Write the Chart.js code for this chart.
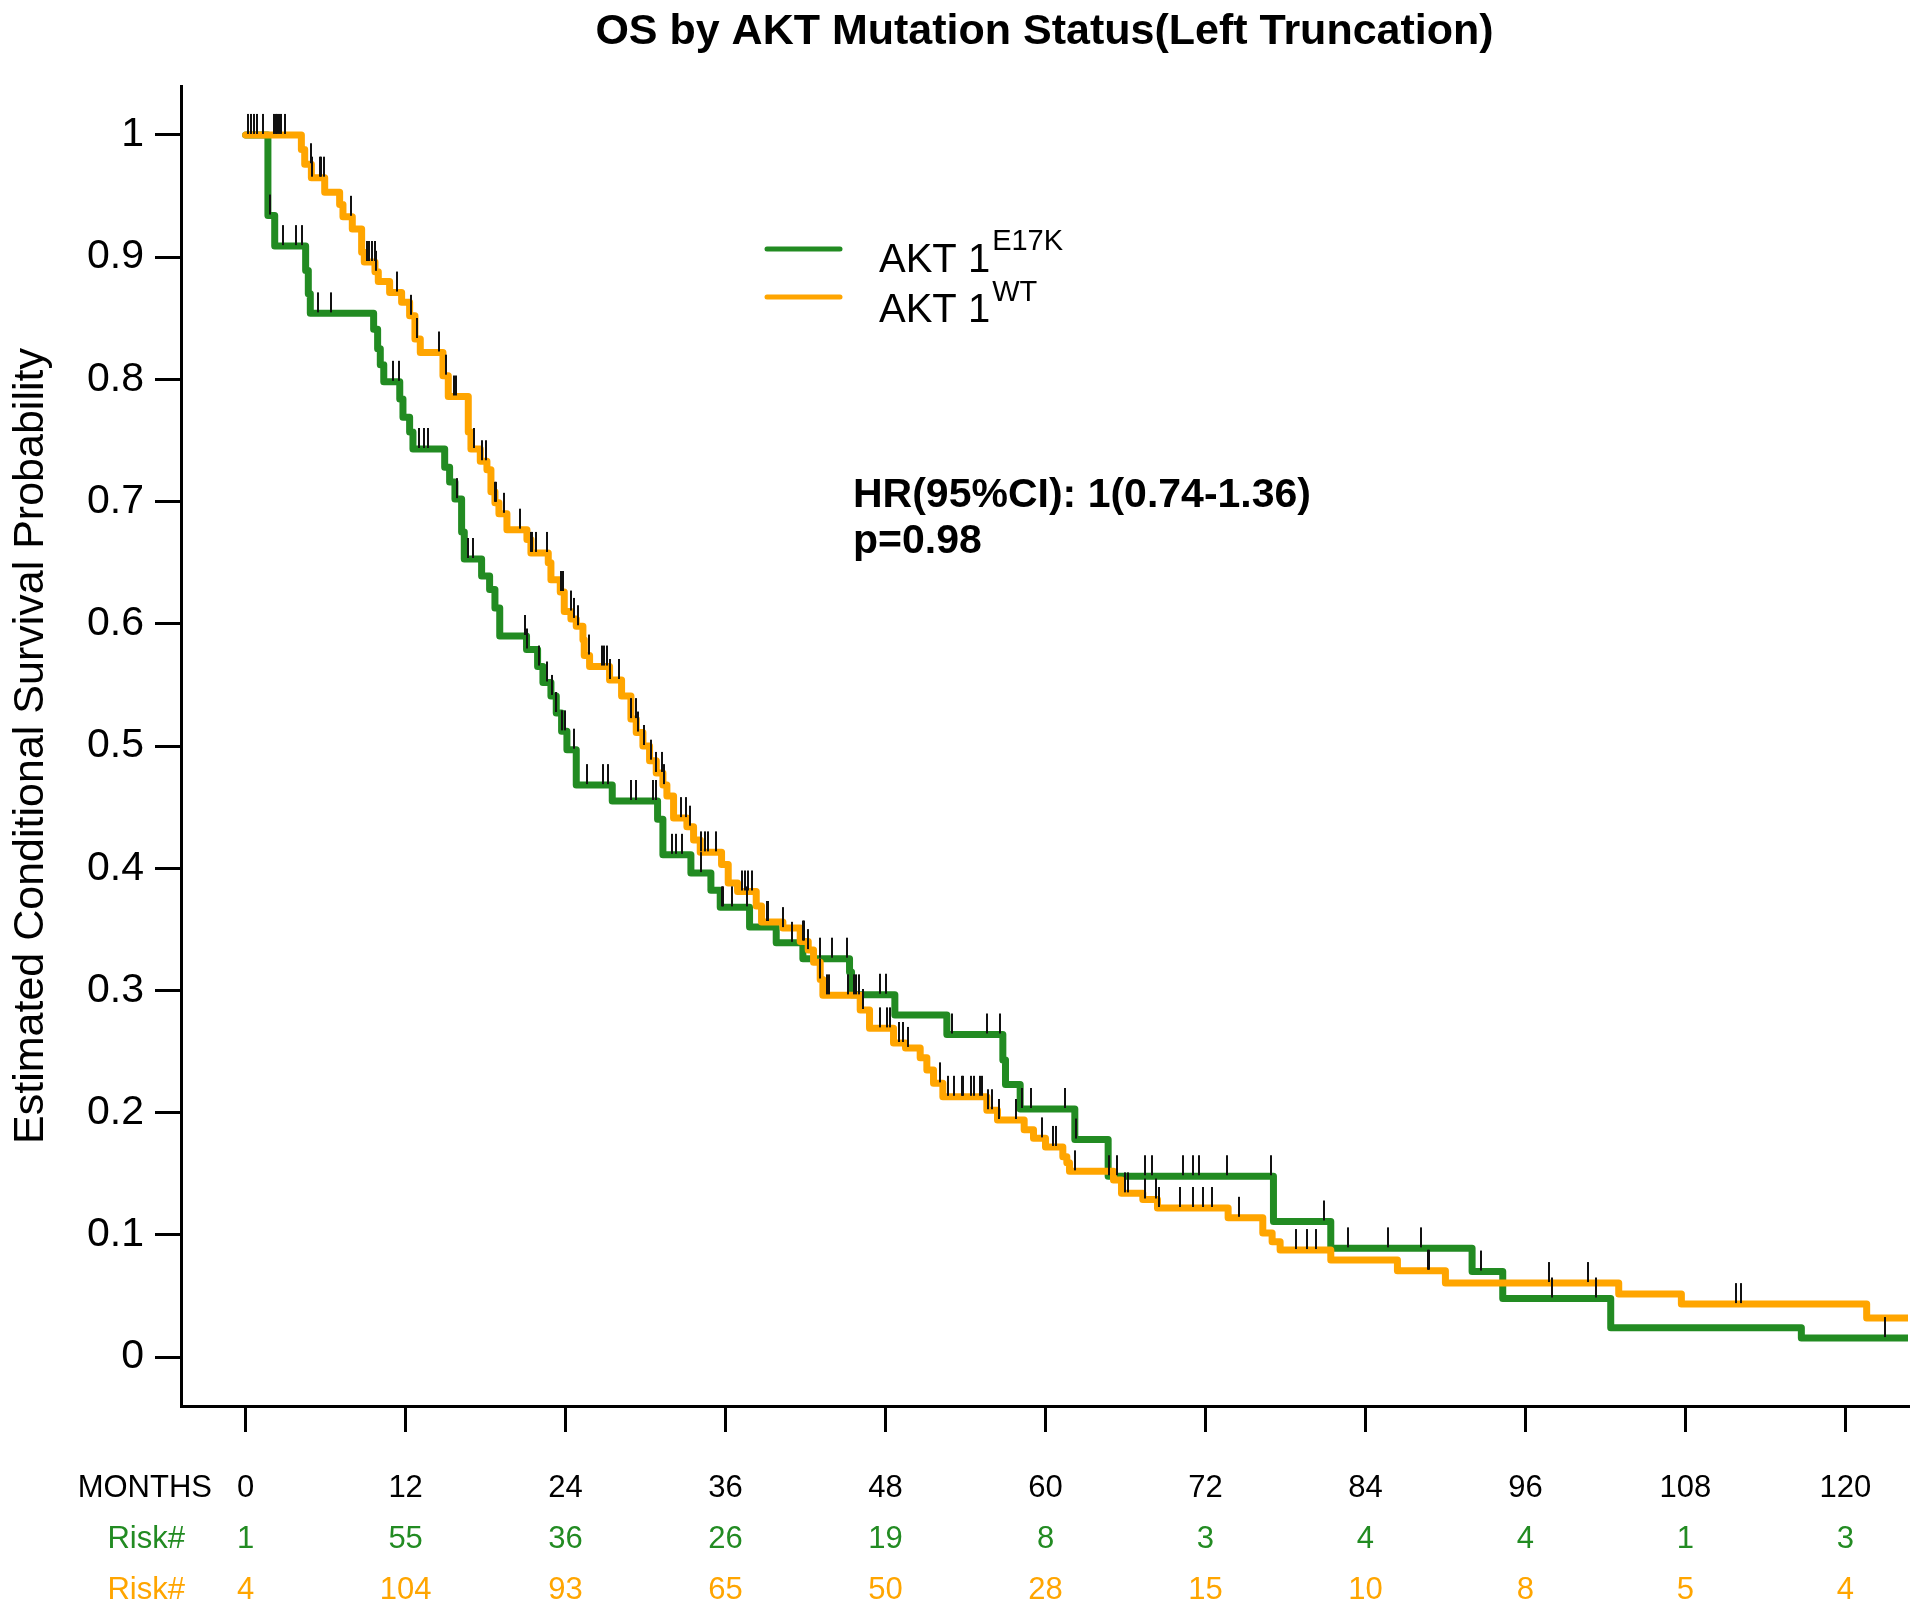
<!DOCTYPE html>
<html>
<head>
<meta charset="utf-8">
<script src="https://cdn.jsdelivr.net/npm/chart.js@4.4.1/dist/chart.umd.min.js"></script>
<style>
  html, body { margin: 0; padding: 0; background: #fff; }
  #wrap { width: 1920px; height: 1616px; position: relative; }
</style>
</head>
<body>
<div id="wrap"><canvas id="chart"></canvas></div>
<script>
// Kaplan-Meier steps, AKT1 E17K (green)
const mutTimes = [0, 1.67, 2.18, 4.5, 4.7, 4.85, 9.6, 9.9, 10.1, 10.36, 11.56, 11.8, 12.3, 12.55,
    14.93, 15.3, 15.7, 16.2, 16.4, 17.7, 18.3, 18.7, 19.06, 21.07, 21.9, 22.3, 22.9, 23.3, 23.7,
    24.1, 24.8, 27.5, 30.9, 31.3, 33.4, 34.9, 35.6, 37.8, 39.8, 41.8, 45.3, 45.45, 48.7, 52.6,
    56.8, 57.0, 58.1, 62.2, 64.7, 77.1, 81.4, 92.0, 94.3, 102.4, 116.7, 124.7];
const mutSurv = [1, 0.934, 0.909, 0.889, 0.870, 0.854, 0.841, 0.825, 0.812, 0.798, 0.784, 0.769, 0.757, 0.743,
    0.728, 0.716, 0.702, 0.675, 0.653, 0.639, 0.628, 0.613, 0.590, 0.579, 0.565, 0.552, 0.541, 0.527, 0.512,
    0.497, 0.468, 0.455, 0.440, 0.411, 0.396, 0.382, 0.368, 0.352, 0.339, 0.326, 0.315, 0.2965, 0.280, 0.264,
    0.243, 0.223, 0.203, 0.178, 0.148, 0.111, 0.089, 0.070, 0.048, 0.024, 0.0156, 0.0156];
const mutCensor = [1.85, 2.8, 3.8, 4.25, 5.43, 6.43, 11.05, 11.48, 13.0, 13.4, 13.7, 15.86, 16.7, 17.06,
    20.94, 21.14, 22.0, 22.57, 23.0, 23.3, 23.7, 23.94, 24.6, 25.57, 26.77, 27.2, 28.94, 29.3, 30.57, 30.77,
    31.95, 32.27, 32.7, 34.15, 35.7, 35.8, 36.5, 37.6, 40.95, 43.08, 43.95, 45.1, 47.6, 48.0, 53.0, 55.6,
    56.6, 58.2, 58.9, 61.5, 62.3, 64.8, 65.4, 67.5, 68.0, 70.3, 71.1, 71.5, 73.6, 76.9, 80.9, 82.7, 85.7,
    88.2, 92.7, 98.0, 101.3, 123.0];

// Kaplan-Meier steps, AKT1 WT (orange)
const wtTimes = [0, 4.18, 4.43, 4.93, 5.93, 7.05, 7.3, 8.0, 8.7, 8.9, 9.7, 9.95, 10.8, 11.7, 12.3, 12.7,
    13.1, 14.8, 15.2, 16.7, 16.9, 17.6, 18.1, 18.4, 18.7, 19.0, 19.6, 21.1, 21.4, 22.7, 22.9, 23.6, 23.9,
    24.4, 24.8, 25.3, 25.4, 25.8, 27.3, 28.2, 28.9, 29.3, 29.8, 30.3, 30.8, 31.3, 31.6, 32.1, 33.1, 33.6,
    34.1, 35.7, 36.2, 36.9, 38.3, 38.7, 40.3, 41.6, 42.2, 42.6, 43.1, 43.3, 46.1, 46.8, 48.6, 49.5, 50.6,
    51.1, 51.6, 52.3, 55.6, 56.4, 58.4, 59.1, 60.0, 61.3, 61.6, 61.8, 65.1, 65.7, 67.3, 68.4, 73.7, 76.3,
    77.0, 77.6, 81.4, 86.4, 90.0, 103.0, 107.7, 121.6, 124.7];
const wtSurv = [1, 0.988, 0.976, 0.965, 0.953, 0.943, 0.933, 0.923, 0.904, 0.896, 0.888, 0.880, 0.871, 0.863,
    0.852, 0.833, 0.822, 0.803, 0.786, 0.757, 0.743, 0.733, 0.726, 0.708, 0.699, 0.690, 0.677, 0.669, 0.658,
    0.650, 0.636, 0.626, 0.610, 0.604, 0.598, 0.587, 0.574, 0.565, 0.554, 0.541, 0.522, 0.511, 0.500, 0.488,
    0.478, 0.468, 0.459, 0.441, 0.434, 0.423, 0.413, 0.403, 0.388, 0.381, 0.369, 0.356, 0.351, 0.340, 0.333,
    0.323, 0.309, 0.296, 0.284, 0.269, 0.257, 0.253, 0.245, 0.235, 0.224, 0.213, 0.202, 0.194, 0.186, 0.179,
    0.172, 0.164, 0.159, 0.152, 0.145, 0.134, 0.129, 0.122, 0.114, 0.1015, 0.0944, 0.0876, 0.0794, 0.0707,
    0.0606, 0.0516, 0.0434, 0.032, 0.032];
const wtCensor = [0.17, 0.38, 0.6, 0.88, 1.3, 2.13, 2.25, 2.38, 2.5, 2.68, 2.93, 4.88, 5.0, 5.55, 5.68, 5.85,
    7.93, 9.1, 9.26, 9.48, 9.68, 9.8, 11.38, 12.43, 12.86, 14.5, 15.06, 15.6, 15.76, 17.1, 17.7, 18.06, 18.7,
    18.76, 19.4, 20.56, 21.4, 21.5, 21.8, 22.57, 23.64, 23.8, 24.37, 24.64, 24.94, 25.77, 26.7, 26.9, 27.07,
    27.3, 28.0, 28.94, 29.27, 29.44, 29.9, 30.37, 30.8, 31.2, 31.37, 32.65, 33.0, 33.3, 34.15, 34.45, 34.7,
    35.3, 37.25, 37.45, 37.7, 37.95, 39.1, 39.2, 40.3, 41.8, 41.9, 42.2, 43.1, 43.6, 43.75, 45.2, 45.6, 45.8,
    46.0, 46.3, 47.6, 48.1, 48.3, 49.0, 49.3, 49.7, 52.1, 52.7, 53.1, 53.7, 53.8, 54.4, 54.6, 55.1, 55.2,
    55.7, 56.0, 56.5, 57.8, 59.7, 60.6, 60.8, 62.2, 66.0, 66.2, 67.5, 68.3, 68.5, 70.1, 71.1, 71.8, 72.5,
    74.5, 78.8, 79.6, 80.3, 88.7, 88.8, 97.8, 100.7, 111.8, 112.2];

// axis ticks and number-at-risk table
const monthTicks = [0, 12, 24, 36, 48, 60, 72, 84, 96, 108, 120];
const yTicks = [0, 0.1, 0.2, 0.3, 0.4, 0.5, 0.6, 0.7, 0.8, 0.9, 1];
const yTickLabels = ["0", "0.1", "0.2", "0.3", "0.4", "0.5", "0.6", "0.7", "0.8", "0.9", "1"];
const mutRisk = [1, 55, 36, 26, 19, 8, 3, 4, 4, 1, 3];
const wtRisk = [4, 104, 93, 65, 50, 28, 15, 10, 8, 5, 4];

const GREEN = "#228B22";
const ORANGE = "#FFA500";
const FONT = '"Liberation Sans", Arial, sans-serif';

Chart.defaults.font.family = FONT;
Chart.defaults.color = "#000";

function survAt(times, surv, t) {
    let s = surv[0];
    for (let i = 0; i < times.length; i++) {
        if (times[i] <= t) s = surv[i];
    }
    return s;
}

// censor mark: short vertical bar sitting just above the point
const censorMark = document.createElement("canvas");
censorMark.width = 2;
censorMark.height = 44;
const cm = censorMark.getContext("2d");
cm.fillStyle = "#111";
cm.fillRect(0, 1, 2, 20);

const censorPoints = mutCensor.map(t => ({ x: t, y: survAt(mutTimes, mutSurv, t) }))
    .concat(wtCensor.map(t => ({ x: t, y: survAt(wtTimes, wtSurv, t) })));

const annotate = {
    id: "annotate",
    afterDraw(chart) {
        const { ctx, chartArea, scales } = chart;
        const x = scales.x;
        ctx.save();
        ctx.textBaseline = "alphabetic";

        // title
        ctx.fillStyle = "#000";
        ctx.font = "bold 43px " + FONT;
        ctx.textAlign = "center";
        ctx.fillText("OS by AKT Mutation Status(Left Truncation)", (chartArea.left + chartArea.right) / 2, 44);

        // legend
        ctx.lineCap = "round";
        ctx.lineWidth = 5;
        [[GREEN, 249, 272, "E17K", 250], [ORANGE, 297, 322, "WT", 301]].forEach(([c, ly, ty, sup, sy]) => {
            ctx.strokeStyle = c;
            ctx.beginPath();
            ctx.moveTo(767, ly);
            ctx.lineTo(840, ly);
            ctx.stroke();
            ctx.fillStyle = "#000";
            ctx.textAlign = "left";
            ctx.font = "40px " + FONT;
            ctx.fillText("AKT 1", 879, ty);
            const w = ctx.measureText("AKT 1").width;
            ctx.font = "29px " + FONT;
            ctx.fillText(sup, 879 + w + 2, sy);
        });

        // hazard ratio
        ctx.font = "bold 41px " + FONT;
        ctx.textAlign = "left";
        ctx.fillStyle = "#000";
        ctx.fillText("HR(95%CI): 1(0.74-1.36)", 853, 507);
        ctx.fillText("p=0.98", 853, 553);

        // months row and risk table
        ctx.font = "31px " + FONT;
        ctx.textBaseline = "middle";
        ctx.textAlign = "right";
        ctx.fillStyle = "#000";
        ctx.fillText("MONTHS", 212, 1488);
        ctx.fillStyle = GREEN;
        ctx.fillText("Risk#", 185, 1539);
        ctx.fillStyle = ORANGE;
        ctx.fillText("Risk#", 185, 1590);
        ctx.textAlign = "center";
        monthTicks.forEach((m, i) => {
            const px = x.getPixelForValue(m);
            ctx.fillStyle = "#000";
            ctx.fillText(String(m), px, 1488);
            ctx.fillStyle = GREEN;
            ctx.fillText(String(mutRisk[i]), px, 1539);
            ctx.fillStyle = ORANGE;
            ctx.fillText(String(wtRisk[i]), px, 1590);
        });
        ctx.restore();
    }
};

new Chart(document.getElementById("chart"), {
    type: "line",
    data: {
        datasets: [
            {
                label: "AKT 1 E17K",
                data: mutTimes.map((t, i) => ({ x: t, y: mutSurv[i] })),
                borderColor: GREEN,
                borderWidth: 7,
                stepped: "before",
                borderJoinStyle: "round",
                borderCapStyle: "round",
                pointRadius: 0,
                fill: false,
                order: 2,
            },
            {
                label: "AKT 1 WT",
                data: wtTimes.map((t, i) => ({ x: t, y: wtSurv[i] })),
                borderColor: ORANGE,
                borderWidth: 7,
                stepped: "before",
                borderJoinStyle: "round",
                borderCapStyle: "round",
                pointRadius: 0,
                fill: false,
                order: 1,
            },
            {
                label: "censored",
                data: censorPoints,
                showLine: false,
                pointStyle: censorMark,
                pointRadius: 10,
                order: 0,
            },
        ],
    },
    options: {
        responsive: true,
        maintainAspectRatio: false,
        animation: false,
        events: [],
        layout: { padding: { top: 86, right: 12, left: 0, bottom: 0 } },
        plugins: {
            legend: { display: false },
            tooltip: { enabled: false },
            title: { display: false },
        },
        scales: {
            x: {
                type: "linear",
                min: -4.85,
                max: 124.7,
                grid: { drawOnChartArea: false, drawTicks: true, tickLength: 26, color: "#000", lineWidth: 3 },
                border: { display: true, color: "#000", width: 3 },
                ticks: { display: false },
                afterBuildTicks: s => { s.ticks = monthTicks.map(v => ({ value: v })); },
                afterFit: s => { s.height = 210; },
            },
            y: {
                type: "linear",
                min: -0.04,
                max: 1.04,
                grid: { drawOnChartArea: false, drawTicks: true, tickLength: 26, color: "#000", lineWidth: 3 },
                border: { display: true, color: "#000", width: 3 },
                ticks: {
                    font: { size: 41 },
                    color: "#000",
                    padding: 11,
                    callback: (v, i) => yTickLabels[i],
                },
                afterBuildTicks: s => { s.ticks = yTicks.map(v => ({ value: v })); },
                afterFit: s => { s.width = 181; },
                title: {
                    display: true,
                    text: "Estimated Conditional Survival Probability",
                    font: { size: 43 },
                    color: "#000",
                    padding: { top: 5, bottom: 0 },
                },
            },
        },
    },
    plugins: [annotate],
});
</script>
</body>
</html>
